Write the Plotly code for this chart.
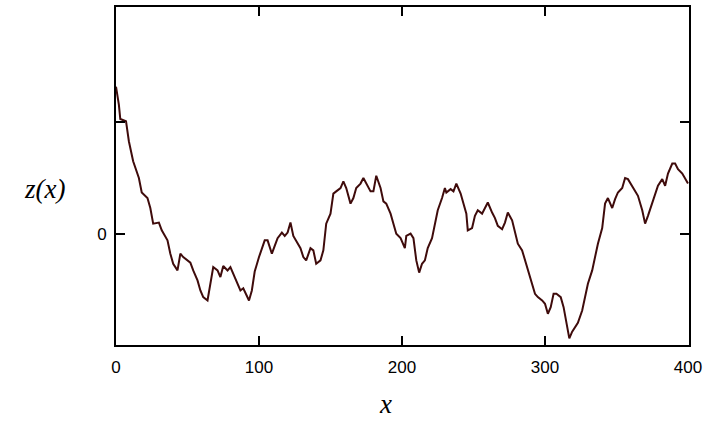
import plotly.graph_objects as go

# Values
x_vals = [0, 2, 3, 7, 9, 12, 16, 18, 22, 24, 26, 30, 32, 36, 38, 40, 43, 45, 47, 50,
          52, 54, 57, 59, 61, 64, 66, 68, 71, 73, 75, 78, 80, 82, 85, 87, 89, 92, 93, 95,
          97, 100, 102, 104, 106, 109, 111, 113, 116, 118, 120, 122, 124, 126, 129, 131, 133, 136, 138, 140,
          143, 145, 147, 150, 152, 154, 157, 159, 161, 164, 166, 168, 171, 173, 175, 178, 180, 182, 185, 187,
          189, 192, 194, 196, 199, 201, 202, 203, 206, 208, 210, 212, 214, 216, 218, 221, 223, 225, 228, 230,
          231, 234, 236, 238, 241, 243, 245, 246, 249, 251, 253, 256, 258, 260, 263, 265, 267, 270, 272, 274,
          277, 279, 281, 284, 286, 288, 291, 293, 295, 298, 300, 302, 304, 306, 308, 311, 313, 315, 317, 319,
          321, 323, 326, 328, 330, 333, 335, 337, 340, 342, 344, 347, 349, 351, 354, 356, 358, 361, 363, 365,
          368, 370, 372, 375, 377, 379, 382, 384, 386, 389, 391, 393, 396, 398, 400]
z_vals = [1.32, 1.16, 1.03, 1.01, 0.83, 0.65, 0.50, 0.37, 0.32, 0.23, 0.09, 0.10, 0.03, -0.06, -0.18, -0.27, -0.33, -0.18, -0.21, -0.24,
          -0.26, -0.33, -0.42, -0.51, -0.57, -0.60, -0.45, -0.30, -0.33, -0.39, -0.29, -0.33, -0.30, -0.36, -0.45, -0.51, -0.49, -0.57, -0.60, -0.51,
          -0.34, -0.21, -0.125, -0.06, -0.06, -0.18, -0.11, -0.04, 0.01, -0.02, 0.01, 0.10, -0.02, -0.06, -0.13, -0.21, -0.24, -0.13, -0.15, -0.27,
          -0.24, -0.15, 0.09, 0.18, 0.36, 0.38, 0.41, 0.47, 0.41, 0.27, 0.32, 0.41, 0.45, 0.50, 0.45, 0.38, 0.38, 0.52, 0.41, 0.29,
          0.27, 0.18, 0.09, 0.0, -0.04, -0.11, -0.13, -0.02, 0.0, -0.04, -0.24, -0.35, -0.27, -0.24, -0.13, -0.04, 0.09, 0.21, 0.32, 0.41,
          0.37, 0.40, 0.38, 0.45, 0.36, 0.27, 0.18, 0.03, 0.05, 0.16, 0.21, 0.18, 0.23, 0.28, 0.19, 0.14, 0.07, 0.04, 0.10, 0.19,
          0.12, 0.0, -0.09, -0.15, -0.24, -0.33, -0.45, -0.54, -0.57, -0.60, -0.63, -0.72, -0.66, -0.54, -0.54, -0.57, -0.66, -0.80, -0.94, -0.88,
          -0.84, -0.80, -0.69, -0.57, -0.45, -0.33, -0.21, -0.09, 0.05, 0.27, 0.32, 0.23, 0.31, 0.37, 0.41, 0.50, 0.49, 0.43, 0.38, 0.34,
          0.21, 0.09, 0.16, 0.28, 0.37, 0.43, 0.49, 0.43, 0.54, 0.63, 0.63, 0.58, 0.54, 0.50, 0.45]

x_ticks = [0, 100, 200, 300, 400]
x_tick_labels = ["0", "100", "200", "300", "400"]
y_ticks = [0, 1]
y_tick_labels = ["0", ""]

fig = go.Figure()
fig.add_trace(go.Scatter(x=x_vals, y=z_vals, mode="lines",
                         line=dict(color="#3f0b0b", width=2),
                         showlegend=False, hoverinfo="skip"))

tick_font = dict(family="Liberation Sans, Arial, sans-serif", size=17, color="black")

fig.update_layout(
    width=715, height=432,
    margin=dict(l=116, r=26, t=5, b=87),
    paper_bgcolor="white", plot_bgcolor="white",
    xaxis=dict(range=[0, 400.7], tickvals=x_ticks, ticktext=x_tick_labels,
               showgrid=False, zeroline=False, showline=True, linecolor="black", linewidth=2,
               mirror="allticks", ticks="inside", ticklen=9, tickwidth=2, tickcolor="black",
               tickfont=tick_font, ticklabelstandoff=6),
    yaxis=dict(range=[-1.0, 2.036], tickvals=y_ticks, ticktext=y_tick_labels,
               showgrid=False, zeroline=False, showline=True, linecolor="black", linewidth=2,
               mirror="allticks", ticks="inside", ticklen=9, tickwidth=2, tickcolor="black",
               tickfont=tick_font, ticklabelstandoff=4),
    annotations=[
        dict(text="<i>z(x)</i>", xref="paper", yref="paper", x=-0.124, y=0.462,
             showarrow=False, xanchor="center", yanchor="middle",
             font=dict(family="Liberation Serif, Times New Roman, serif", size=27, color="black")),
        dict(text="<i>x</i>", xref="paper", yref="paper", x=0.471, y=-0.176,
             showarrow=False, xanchor="center", yanchor="middle",
             font=dict(family="Liberation Serif, Times New Roman, serif", size=27, color="black")),
    ],
)

fig.write_html("out.html")
